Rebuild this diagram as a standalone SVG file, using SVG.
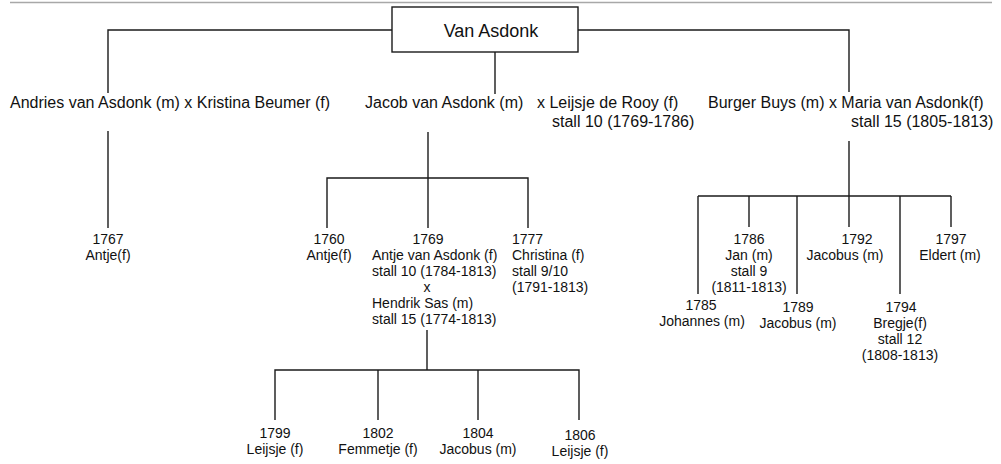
<svg xmlns="http://www.w3.org/2000/svg" width="1001" height="464" viewBox="0 0 1001 464">
<style>
text{font-family:"Liberation Sans",Arial,sans-serif;fill:#111}
.p{font-size:16px}
.c{font-size:14px}
.m{text-anchor:middle}
.ln{fill:none;stroke:#1a1a1a;stroke-width:1.4}
</style>
<rect width="1001" height="464" fill="#fff"/>
<line x1="10" y1="2.5" x2="992" y2="2.5" stroke="#a8a8a8" stroke-width="1.5"/>
<g id="connectors" class="ln">
<polyline points="392,30 108,30 108,93"/>
<polyline points="578,30 849,30 849,92"/>
<line x1="495" y1="52" x2="495" y2="94"/>
<line x1="108" y1="131" x2="108" y2="228"/>
<line x1="428" y1="132" x2="428" y2="178"/>
<polyline points="327,228 327,178 528,178 528,228"/>
<line x1="428" y1="178" x2="428" y2="228"/>
<line x1="427" y1="330" x2="427" y2="370"/>
<polyline points="275,420 275,370 579,370 579,420"/>
<line x1="378" y1="370" x2="378" y2="420"/>
<line x1="478" y1="370" x2="478" y2="420"/>
<line x1="849" y1="141" x2="849" y2="227"/>
<line x1="698" y1="196" x2="951" y2="196"/>
<line x1="698" y1="196" x2="698" y2="294"/>
<line x1="749" y1="196" x2="749" y2="227"/>
<line x1="797" y1="196" x2="797" y2="294"/>
<line x1="900" y1="196" x2="900" y2="294"/>
<line x1="951" y1="196" x2="951" y2="227"/>
</g>
<g id="root">
<rect x="392" y="7" width="186" height="45" fill="#fff" stroke="#1a1a1a" stroke-width="1.4"/>
<text x="491" y="37" class="m" font-size="18">Van Asdonk</text>
</g>
<g id="andries"><text x="10" y="108" class="p">Andries van Asdonk (m) x Kristina Beumer (f)</text></g>
<g id="jacob">
<text x="365" y="108" class="p">Jacob van Asdonk (m)</text>
<text x="537" y="108" class="p">x Leijsje de Rooy (f)</text>
<text x="552" y="127" class="p">stall 10 (1769-1786)</text>
</g>
<g id="maria">
<text x="708" y="108" class="p">Burger Buys (m) x Maria van Asdonk(f)</text>
<text x="851" y="127" class="p">stall 15 (1805-1813)</text>
</g>
<g id="c1767"><text x="108" y="244" class="c m">1767</text><text x="108" y="260" class="c m">Antje(f)</text></g>
<g id="c1760"><text x="329" y="244" class="c m">1760</text><text x="329" y="260" class="c m">Antje(f)</text></g>
<g id="c1769">
<text x="428" y="244" class="c m">1769</text>
<text x="372" y="260" class="c">Antje van Asdonk (f)</text>
<text x="372" y="276" class="c">stall 10 (1784-1813)</text>
<text x="427" y="292" class="c m">x</text>
<text x="372" y="308" class="c">Hendrik Sas (m)</text>
<text x="372" y="324" class="c">stall 15 (1774-1813)</text>
</g>
<g id="c1777">
<text x="512" y="244" class="c">1777</text>
<text x="512" y="260" class="c">Christina (f)</text>
<text x="512" y="276" class="c">stall 9/10</text>
<text x="512" y="292" class="c">(1791-1813)</text>
</g>
<g id="g1799"><text x="275" y="438" class="c m">1799</text><text x="275" y="454" class="c m">Leijsje (f)</text></g>
<g id="g1802"><text x="378" y="438" class="c m">1802</text><text x="378" y="454" class="c m">Femmetje (f)</text></g>
<g id="g1804"><text x="478" y="438" class="c m">1804</text><text x="478" y="454" class="c m">Jacobus (m)</text></g>
<g id="g1806"><text x="580" y="440" class="c m">1806</text><text x="580" y="456" class="c m">Leijsje (f)</text></g>
<g id="b1785"><text x="701" y="310" class="c m">1785</text><text x="702" y="326" class="c m">Johannes (m)</text></g>
<g id="b1786">
<text x="749" y="244" class="c m">1786</text>
<text x="749" y="260" class="c m">Jan (m)</text>
<text x="749" y="276" class="c m">stall 9</text>
<text x="749" y="292" class="c m">(1811-1813)</text>
</g>
<g id="b1789"><text x="798" y="312" class="c m">1789</text><text x="798" y="328" class="c m">Jacobus (m)</text></g>
<g id="b1792"><text x="857" y="244" class="c m">1792</text><text x="845" y="260" class="c m">Jacobus (m)</text></g>
<g id="b1794">
<text x="901" y="312" class="c m">1794</text>
<text x="900" y="328" class="c m">Bregje(f)</text>
<text x="900" y="344" class="c m">stall 12</text>
<text x="900" y="360" class="c m">(1808-1813)</text>
</g>
<g id="b1797"><text x="951" y="244" class="c m">1797</text><text x="950" y="260" class="c m">Eldert (m)</text></g>
</svg>
